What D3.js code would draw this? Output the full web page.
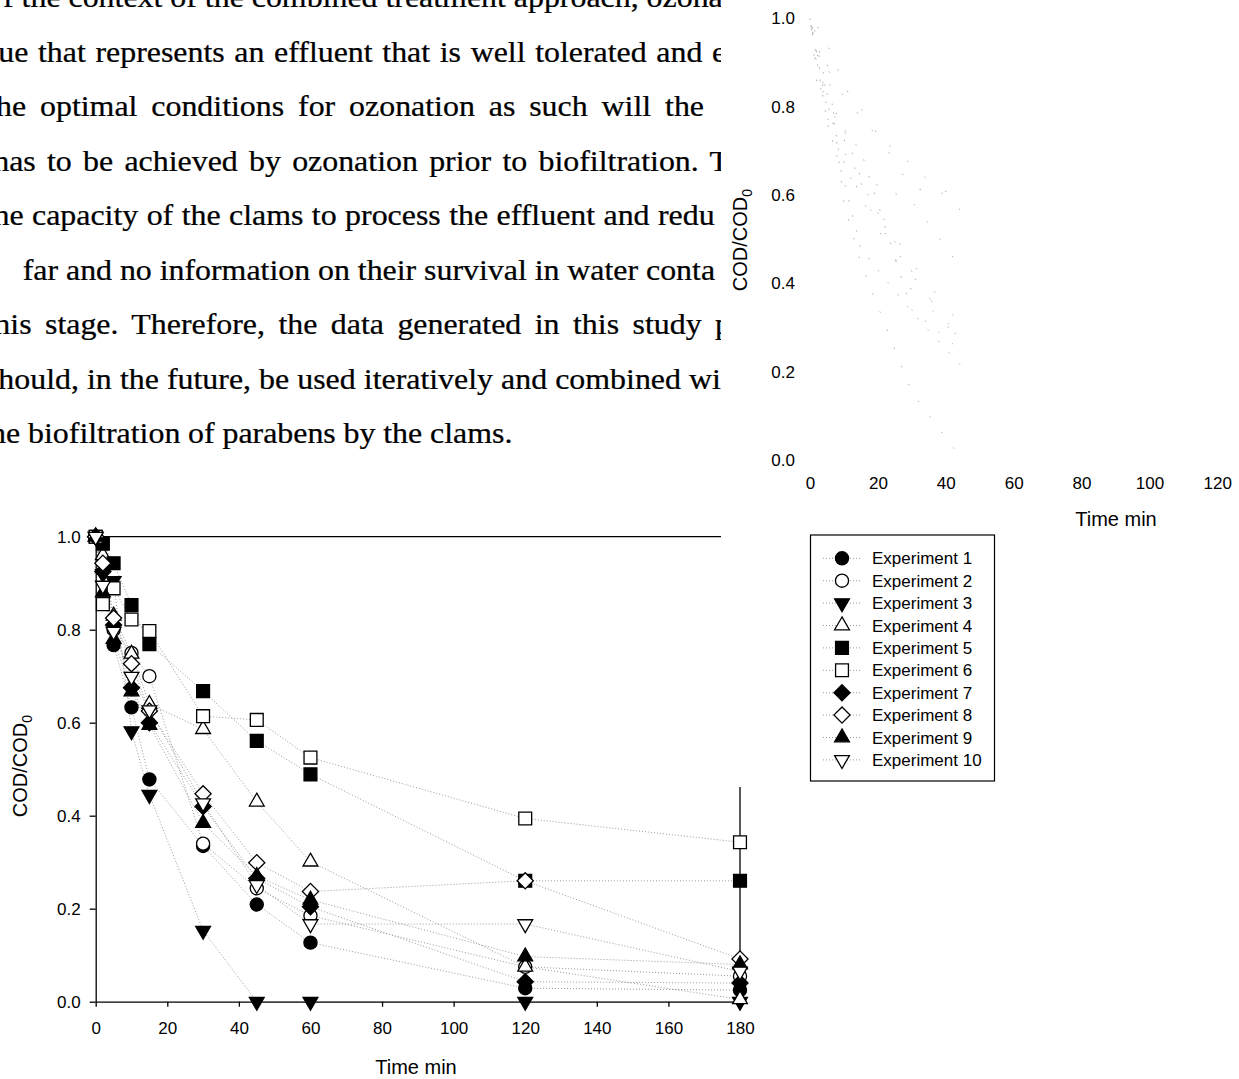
<!DOCTYPE html>
<html>
<head>
<meta charset="utf-8">
<script src="https://cdn.jsdelivr.net/npm/d3@7"></script>
<style>
  body { margin: 0; background: #fff; }
  svg { display: block; }
  text { font-family: "Liberation Sans", Arial, sans-serif; fill: #000; }
  .body-text { font-family: "Liberation Serif", "Times New Roman", serif; font-size: 29px; stroke: #000; stroke-width: 0.25; }
</style>
</head>
<body>
<div id="page"></div>
<script>
// sampling times (min)
var times = [0, 2, 5, 10, 15, 30, 45, 60, 120, 180];

// COD/COD0, null = no point visible
var exp1  = [1.0, null,  0.767, 0.633, 0.478, 0.335, 0.209, 0.127, 0.029, 0.025];
var exp2  = [1.0, null,  0.80,  0.750, 0.700, 0.340, 0.244, 0.185, 0.075, 0.055];
var exp3  = [1.0, 0.92,  0.905, 0.582, 0.445, 0.153, 0.0,   0.0,   0.0,   0.0];
var exp4  = [1.0, 0.96,  0.83,  0.748, 0.640, 0.586, 0.430, 0.301, 0.075, 0.005];
var exp5  = [1.0, 0.985, 0.943, 0.853, 0.769, 0.668, 0.561, 0.489, 0.260, 0.260];
var exp6  = [1.0, 0.855, 0.889, 0.822, 0.797, 0.614, 0.606, 0.525, 0.394, 0.343];
var exp7  = [1.0, 0.925, 0.81,  0.675, 0.600, 0.420, 0.265, 0.204, 0.043, 0.040];
var exp8  = [1.0, 0.943, 0.825, 0.727, 0.625, 0.447, 0.299, 0.237, 0.260, 0.092];
var exp9  = [1.0, 0.88,  0.78,  0.667, 0.595, 0.384, 0.270, 0.219, 0.097, 0.080];
var exp10 = [1.0, 0.895, 0.796, 0.699, 0.627, 0.427, 0.251, 0.167, 0.167, 0.065];

var seriesNames = ["Experiment 1", "Experiment 2", "Experiment 3", "Experiment 4", "Experiment 5",
                   "Experiment 6", "Experiment 7", "Experiment 8", "Experiment 9", "Experiment 10"];
var seriesValues = [exp1, exp2, exp3, exp4, exp5, exp6, exp7, exp8, exp9, exp10];
var shapes = ["circle", "circle", "triDown", "triUp", "square", "square", "diamond", "diamond", "triUp", "triDown"];
var filled = [true, false, true, false, true, false, true, false, true, false];

var xTicks = [0, 20, 40, 60, 80, 100, 120, 140, 160, 180];
var yTicks = [0.0, 0.2, 0.4, 0.6, 0.8, 1.0];
var ghostXTicks = [0, 20, 40, 60, 80, 100, 120];

// page text behind the figure (cropped scan)
var pageLines = [
    "f the context of the combined treatment approach, ozona",
    "ue that represents an effluent that is well tolerated and e",
    "he optimal conditions for ozonation as such will the",
    "has to be achieved by ozonation prior to biofiltration. T",
    "he capacity of the clams to process the effluent and redu",
    "far and no information on their survival in water conta",
    "his stage. Therefore, the data generated in this study p",
    "hould, in the future, be used iteratively and combined wi",
    "he biofiltration of parabens by the clams."
];
// x of 2nd word and of last word for each line (justified text)
var lineSecond = [null, 38, 40, 47, 32, 66, 45, 87, 28];
var lineLast   = [null, 712, 665, 710, 658, 646, 715, 689, 430];

var svgWidth = 1239;
var svgHeight = 1079;

var svg = d3.select("#page").append("svg")
    .attr("width", svgWidth)
    .attr("height", svgHeight);

var data = seriesValues.map(function(vals, i) {
    return {
        name: seriesNames[i],
        idx: i,
        points: times.map(function(t, j) { return {t: t, v: vals[j]}; })
                     .filter(function(p) { return p.v !== null; })
    };
});

function symbolPath(shape) {
    if (shape === "circle") return d3.symbol(d3.symbolCircle, 135)();
    if (shape === "square") return d3.symbol(d3.symbolSquare, 165)();
    if (shape === "diamond") return d3.symbol(d3.symbolSquare, 130)();
    return d3.symbol(d3.symbolTriangle, 95)();
}
function symbolRotate(shape) {
    if (shape === "diamond") return 45;
    if (shape === "triDown") return 180;
    return 0;
}

// ---------- page text ----------
var defs = svg.append("defs");
defs.append("clipPath").attr("id", "textClip")
  .append("rect").attr("x", 0).attr("y", 0).attr("width", 721).attr("height", 500);

var sx = 1.1;
var textG = svg.append("g").attr("clip-path", "url(#textClip)")
  .append("g").attr("transform", "scale(" + sx + ",1)");

var lineTop = 7.3, lineGap = 54.5;
pageLines.forEach(function(line, i) {
    var t = textG.append("text").attr("class", "body-text").attr("y", lineTop + i * lineGap);
    var measure = function(s) { t.text(s); return t.node().getComputedTextLength(); };
    var words = line.split(" ");
    var sp = measure("a a") - measure("aa");
    var ws = 0, x0 = 3 / sx;
    if (lineSecond[i] !== null) {
        var W1 = measure(words[0]) + sp;
        var WL = measure(words.slice(0, -1).join(" ")) + sp;
        var n = words.length - 1;
        ws = ((lineLast[i] - lineSecond[i]) / sx - (WL - W1)) / (n - 1);
        x0 = lineSecond[i] / sx - W1 - ws;
    }
    t.text(line).attr("x", x0).attr("word-spacing", ws);
});

// ---------- main chart ----------
var x = d3.scaleLinear().domain([0, 180]).range([95.7, 740]);
var y = d3.scaleLinear().domain([0, 1]).range([1001.7, 536.7]);

var main = svg.append("g");

var line = d3.line().x(function(d) { return x(d.t); }).y(function(d) { return y(d.v); });

main.selectAll(".trace")
    .data(data)
    .enter()
    .append("path")
    .attr("class", "trace")
    .attr("d", function(d) { return line(d.points); })
    .attr("fill", "none")
    .attr("stroke", "#9a9a9a")
    .attr("stroke-width", 1)
    .attr("stroke-dasharray", "1,2");

// frame: top and right
main.append("line")
    .attr("x1", x(0)).attr("x2", x(180)).attr("y1", y(1)).attr("y2", y(1))
    .attr("stroke", "#000").attr("stroke-width", 1.3);
main.append("line")
    .attr("x1", x(180)).attr("x2", x(180)).attr("y1", y(1)).attr("y2", y(0))
    .attr("stroke", "#000").attr("stroke-width", 1.3);

var xAxis = main.append("g")
    .attr("transform", "translate(0," + y(0) + ")")
    .call(d3.axisBottom(x).tickValues(xTicks).tickFormat(d3.format("d")).tickSize(5).tickSizeOuter(0).tickPadding(15));
var yAxis = main.append("g")
    .attr("transform", "translate(" + x(0) + ",0)")
    .call(d3.axisLeft(y).tickValues(yTicks).tickFormat(d3.format(".1f")).tickSize(6).tickSizeOuter(0).tickPadding(9));

[xAxis, yAxis].forEach(function(a) {
    a.selectAll("text").attr("font-size", "17px").attr("font-family", "Liberation Sans, Arial, sans-serif").attr("fill", "#000");
    a.selectAll("line").attr("stroke", "#000").attr("stroke-width", 1.3);
    a.select(".domain").attr("stroke", "#000").attr("stroke-width", 1.3);
});

main.selectAll(".marks")
    .data(data)
    .enter()
    .append("g")
    .attr("class", "marks")
    .each(function(s) {
        d3.select(this).selectAll("path")
            .data(s.points)
            .enter()
            .append("path")
            .attr("d", symbolPath(shapes[s.idx]))
            .attr("transform", function(p) {
                return "translate(" + x(p.t) + "," + y(p.v) + ") rotate(" + symbolRotate(shapes[s.idx]) + ")";
            })
            .attr("fill", filled[s.idx] ? "#000" : "#fff")
            .attr("stroke", "#000")
            .attr("stroke-width", 1.3);
    });

main.append("text")
    .attr("x", 416).attr("y", 1074)
    .attr("text-anchor", "middle")
    .attr("font-size", "20px")
    .text("Time min");

var yTitle = main.append("text")
    .attr("transform", "translate(26.5,766) rotate(-90)")
    .attr("text-anchor", "middle")
    .attr("font-size", "20px");
yTitle.append("tspan").text("COD/COD");
yTitle.append("tspan").attr("font-size", "14px").attr("dy", "5").text("0");

// ---------- overlaid figure (top right) ----------
svg.append("rect")
    .attr("x", 721).attr("y", 0)
    .attr("width", svgWidth - 721).attr("height", 787)
    .attr("fill", "#fff");

var gx = d3.scaleLinear().domain([0, 120]).range([810, 1217.3]);
var gy = d3.scaleLinear().domain([0, 1]).range([460, 18.5]);

var ghost = svg.append("g");
var gline = d3.line().x(function(d) { return gx(d.t); }).y(function(d) { return gy(d.v); });

// only faint specks of the dotted traces survive in this copy
ghost.selectAll(".ghost")
    .data(data)
    .enter()
    .append("path")
    .attr("class", "ghost")
    .attr("d", function(d) { return gline(d.points.filter(function(p) { return p.t <= 45; })); })
    .attr("fill", "none")
    .attr("stroke", "#a8a8a8")
    .attr("stroke-width", 0.9)
    .attr("stroke-dasharray", function(d) { return "1.5," + (14 + d.idx * 2); })
    .attr("stroke-dashoffset", function(d) { return d.idx * 3; });

var gxAxis = ghost.append("g")
    .attr("transform", "translate(0," + gy(0) + ")")
    .call(d3.axisBottom(gx).tickValues(ghostXTicks).tickFormat(d3.format("d")).tickSize(0).tickPadding(17));
var gyAxis = ghost.append("g")
    .attr("transform", "translate(" + gx(0) + ",0)")
    .call(d3.axisLeft(gy).tickValues(yTicks).tickFormat(d3.format(".1f")).tickSize(0).tickPadding(15));
[gxAxis, gyAxis].forEach(function(a) {
    a.select(".domain").remove();
    a.selectAll("line").remove();
    a.selectAll("text").attr("font-size", "17px").attr("font-family", "Liberation Sans, Arial, sans-serif").attr("fill", "#000");
});

ghost.append("text")
    .attr("x", 1116).attr("y", 526)
    .attr("text-anchor", "middle")
    .attr("font-size", "20px")
    .text("Time min");

var gTitle = ghost.append("text")
    .attr("transform", "translate(746.5,240) rotate(-90)")
    .attr("text-anchor", "middle")
    .attr("font-size", "20px");
gTitle.append("tspan").text("COD/COD");
gTitle.append("tspan").attr("font-size", "14px").attr("dy", "5").text("0");

// legend
var legend = ghost.append("g");
legend.append("rect")
    .attr("x", 810.5).attr("y", 535)
    .attr("width", 184).attr("height", 246)
    .attr("fill", "#fff")
    .attr("stroke", "#000")
    .attr("stroke-width", 1.2);

var rows = legend.selectAll(".row")
    .data(data)
    .enter()
    .append("g")
    .attr("class", "row")
    .attr("transform", function(d, i) { return "translate(0," + (558.3 + i * 22.4) + ")"; });

rows.append("line")
    .attr("x1", 823).attr("x2", 861).attr("y1", 0).attr("y2", 0)
    .attr("stroke", "#9a9a9a").attr("stroke-width", 1).attr("stroke-dasharray", "1,2");
rows.append("path")
    .attr("d", function(d) { return symbolPath(shapes[d.idx]); })
    .attr("transform", function(d) { return "translate(842,0) rotate(" + symbolRotate(shapes[d.idx]) + ")"; })
    .attr("fill", function(d) { return filled[d.idx] ? "#000" : "#fff"; })
    .attr("stroke", "#000")
    .attr("stroke-width", 1.3);
rows.append("text")
    .attr("x", 872).attr("y", 6)
    .attr("font-size", "17px")
    .text(function(d) { return d.name; });
</script>
</body>
</html>
